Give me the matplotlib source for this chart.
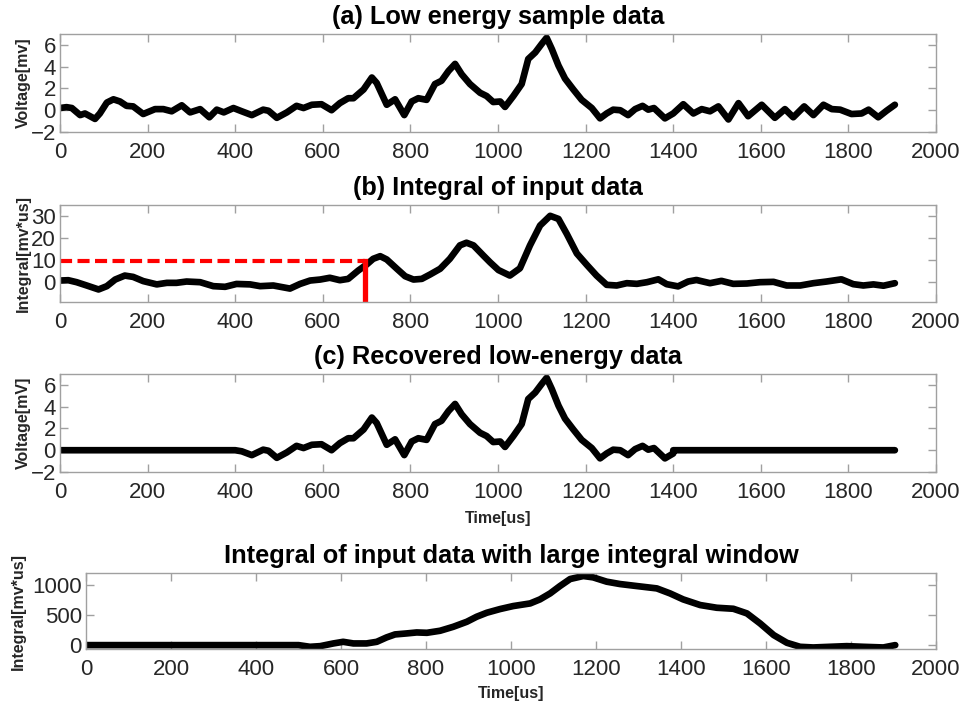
"""Four stacked panels: low energy sample, its integral, recovered data, large-window integral."""

import matplotlib

matplotlib.use("Agg")
import matplotlib.pyplot as plt
import numpy as np

plt.rcParams["font.family"] = ["Liberation Sans", "DejaVu Sans"]

# (a) low energy sample data
time_a = [0, 15, 27, 46, 57, 80, 91, 107, 122, 137, 152, 167, 190, 217, 236, 255, 278, 297,
          320, 341, 358, 374, 396, 415, 438, 464, 476, 495, 518, 540, 556, 575, 597, 620,
          639, 658, 670, 693, 712, 723, 746, 765, 786, 803, 818, 837, 856, 871, 887, 902,
          917, 936, 959, 974, 989, 1005, 1016, 1035, 1054, 1069, 1085, 1100, 1111, 1123,
          1138, 1153, 1172, 1191, 1214, 1233, 1248, 1263, 1279, 1297, 1313, 1330, 1343,
          1356, 1381, 1400, 1423, 1446, 1465, 1484, 1503, 1526, 1549, 1571, 1602, 1632,
          1655, 1674, 1699, 1720, 1743, 1762, 1781, 1807, 1830, 1846, 1868, 1887, 1906]
volt_a = [0.2, 0.28, 0.2, -0.45, -0.3, -0.8, -0.3, 0.7, 1.0, 0.8, 0.4, 0.35, -0.35, 0.1, 0.1,
          -0.1, 0.45, -0.2, 0.1, -0.65, 0.05, -0.2, 0.2, -0.1, -0.45, 0.05, -0.05, -0.7, -0.2,
          0.4, 0.2, 0.5, 0.55, 0.0, 0.65, 1.1, 1.1, 1.9, 3.0, 2.5, 0.5, 1.0, -0.45, 0.8, 1.1,
          0.95, 2.4, 2.7, 3.6, 4.25, 3.3, 2.4, 1.6, 1.3, 0.75, 0.8, 0.3, 1.3, 2.4, 4.7, 5.3,
          6.1, 6.65, 5.6, 4.1, 2.9, 1.9, 0.95, 0.2, -0.75, -0.3, 0.05, 0.0, -0.45, 0.1, 0.4,
          0.05, 0.2, -0.75, -0.3, 0.55, -0.3, 0.1, -0.1, 0.35, -0.85, 0.65, -0.55, 0.5, -0.7,
          0.1, -0.65, 0.35, -0.45, 0.5, 0.1, 0.05, -0.35, -0.3, 0.05, -0.65, -0.05, 0.5]

# (b) integral of input data
time_b = [0, 19, 38, 61, 88, 107, 126, 148, 167, 190, 221, 244, 266, 289, 320, 350, 377, 403,
          434, 457, 487, 525, 548, 571, 594, 616, 639, 658, 681, 700, 715, 731, 746, 769, 788,
          807, 826, 845, 868, 890, 913, 928, 944, 967, 982, 1001, 1027, 1050, 1073, 1096,
          1119, 1138, 1157, 1180, 1203, 1225, 1248, 1271, 1294, 1317, 1340, 1366, 1385,
          1411, 1434, 1453, 1484, 1510, 1537, 1568, 1598, 1629, 1659, 1690, 1720, 1750,
          1784, 1811, 1834, 1857, 1880, 1906]
integ_b = [0.75, 0.9, 0.0, -1.5, -3.3, -1.8, 1.2, 3.0, 2.4, 0.5, -1.0, -0.3, -0.3, 0.3, 0.0,
           -1.8, -2.1, -0.8, -1.0, -1.8, -1.5, -2.9, -0.8, 0.75, 1.2, 2.0, 0.9, 1.5, 5.3, 8.0,
           10.6, 11.8, 10.3, 6.1, 2.7, 1.2, 1.5, 3.5, 6.1, 10.6, 16.7, 17.9, 16.7, 12.0, 9.0,
           5.5, 3.0, 6.3, 16.7, 25.7, 30.1, 28.7, 21.9, 13.0, 7.8, 3.0, -1.2, -1.5, -0.45,
           -0.75, 0.0, 1.3, -0.9, -1.9, 0.3, 1.0, -0.45, 0.6, -0.75, -0.6, 0.0, 0.15, -1.5,
           -1.5, -0.45, 0.3, 1.3, -0.9, -1.5, -1.0, -1.6, -0.45]

# threshold marker in (b)
thresh_time = 697
thresh_level = 9.5

# recovery window used in (c)
window = (400, 1400)

# (d) integral with large window
time_d = [0, 500, 527, 551, 582, 605, 629, 660, 684, 707, 727, 755, 778, 802, 833, 864, 896,
          919, 943, 974, 1005, 1045, 1068, 1092, 1115, 1139, 1170, 1193, 1225, 1256, 1296,
          1343, 1374, 1405, 1445, 1484, 1523, 1555, 1586, 1618, 1649, 1680, 1711, 1750,
          1790, 1829, 1876, 1904]
integ_d = [0, 0, -28, -17, 28, 55, 28, 28, 55, 128, 178, 195, 211, 205, 239, 305, 389, 472,
           539, 600, 650, 694, 761, 861, 983, 1100, 1150, 1128, 1056, 1017, 983, 944, 861,
           761, 667, 622, 605, 528, 361, 167, 39, -28, -39, -28, -17, -28, -39, 0]

GRAY = "#a0a0a0"
TXT = "#262626"
LW = 4.8


def style_axes(ax, ylim, yticks, ylabel, ylabel_x):
    ax.set_xlim(0, 2000)
    ax.set_xticks(np.arange(0, 2001, 200))
    ax.set_ylim(*ylim)
    ax.set_yticks(yticks)
    for spine in ax.spines.values():
        spine.set_color(GRAY)
        spine.set_linewidth(1.0)
    ax.tick_params(axis="both", direction="in", length=6, width=1.0, color=GRAY,
                   labelcolor=TXT, labelsize=16, top=True, right=True)
    ax.tick_params(axis="x", pad=7)
    ax.tick_params(axis="y", pad=3)
    ax.set_ylabel(ylabel, fontsize=11.5, fontweight="bold", color=TXT, va="center")
    ax.yaxis.set_label_coords(ylabel_x, 0.5)


def title(ax, text):
    ax.set_title(text, fontsize=18.3, fontweight="bold", color="black", pad=7)


def xlabel(ax, y):
    ax.set_xlabel("Time[us]", fontsize=11.5, fontweight="bold", color=TXT, va="center")
    ax.xaxis.set_label_coords(0.5, y)


def trace(ax, t, v):
    ax.plot(t, v, color="black", lw=LW, solid_capstyle="round", solid_joinstyle="round")


fig = plt.figure(figsize=(9.69, 7.07), dpi=100)
ax_a = fig.add_axes([0.0619, 0.8133, 0.9041, 0.1387])
ax_b = fig.add_axes([0.0619, 0.5728, 0.9041, 0.1372])
ax_c = fig.add_axes([0.0619, 0.3324, 0.9041, 0.1386])
ax_d = fig.add_axes([0.0888, 0.0820, 0.8772, 0.1075])

# (a)
trace(ax_a, time_a, volt_a)
style_axes(ax_a, (-2, 7), [-2, 0, 2, 4, 6], "Voltage[mv]", -0.042)
title(ax_a, "(a) Low energy sample data")

# (b)
trace(ax_b, time_b, integ_b)
ax_b.plot([0, thresh_time], [thresh_level, thresh_level], color="#ff0000", lw=3.0,
          linestyle=(0, (2.9, 1.3)))
ax_b.plot([thresh_time, thresh_time], [thresh_level, -9], color="#ff0000", lw=3.8)
style_axes(ax_b, (-9, 35), [0, 10, 20, 30], "Integral[mv*us]", -0.042)
title(ax_b, "(b) Integral of input data")

# (c) sample data kept only inside the recovery window
t_arr = np.asarray(time_a, dtype=float)
v_arr = np.asarray(volt_a, dtype=float)
inside = (t_arr >= window[0]) & (t_arr <= window[1])
time_c = np.concatenate([[0, window[0]], t_arr[inside], [window[1], time_a[-1]]])
volt_c = np.concatenate([[0, 0], v_arr[inside], [0, 0]])
trace(ax_c, time_c, volt_c)
style_axes(ax_c, (-2, 7), [-2, 0, 2, 4, 6], "Voltage[mV]", -0.042)
title(ax_c, "(c) Recovered low-energy data")
xlabel(ax_c, -0.47)

# (d)
trace(ax_d, time_d, integ_d)
style_axes(ax_d, (-65, 1200), [0, 500, 1000], "Integral[mv*us]", -0.08)
title(ax_d, "Integral of input data with large integral window")
xlabel(ax_d, -0.58)

fig.savefig("out.png", dpi=100)
plt.close(fig)
